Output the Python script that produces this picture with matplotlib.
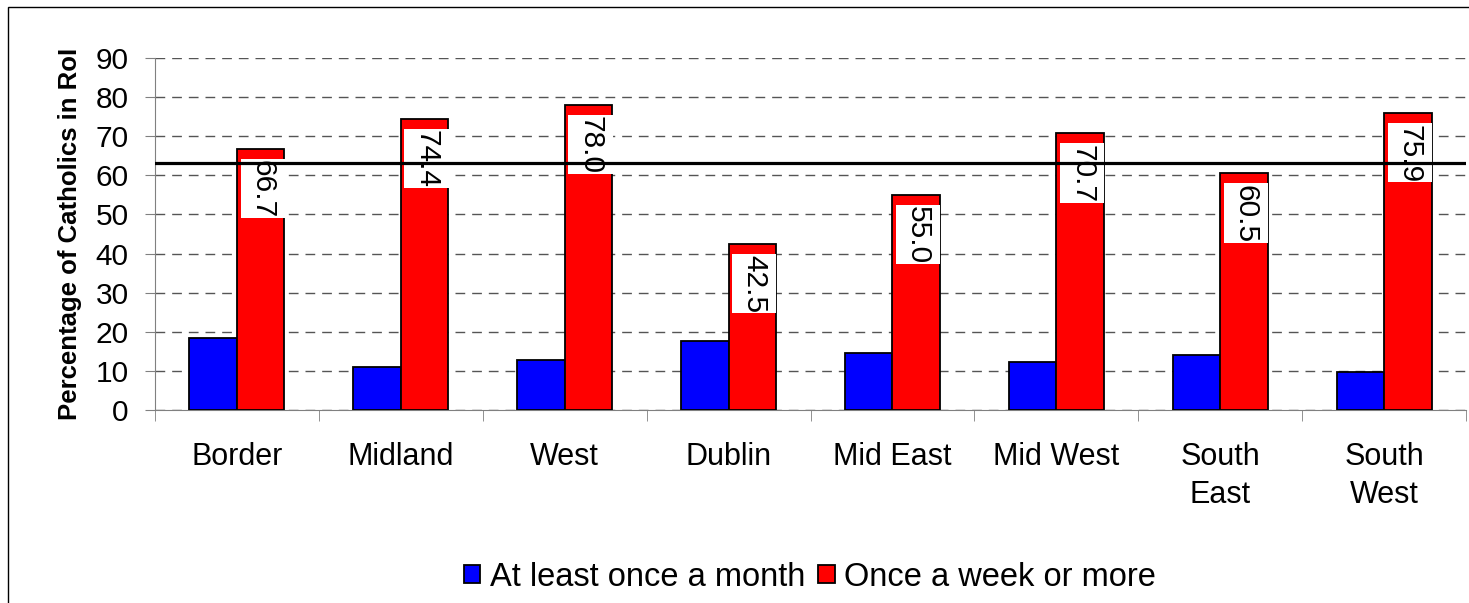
import numpy as np
import matplotlib
matplotlib.use("Agg")
import matplotlib.pyplot as plt
from matplotlib.patches import Rectangle

plt.rcParams['font.family'] = ['Liberation Sans', 'DejaVu Sans']

regions = ['Border', 'Midland', 'West', 'Dublin', 'Mid East', 'Mid West', 'South\nEast', 'South\nWest']
monthly = [18.4, 11.0, 12.8, 17.6, 14.6, 12.3, 14.1, 9.7]
weekly = [66.7, 74.4, 78.0, 42.5, 55.0, 70.7, 60.5, 75.9]
national_avg = 63.2

fig = plt.figure(figsize=(14.69, 6.03), dpi=100)
ax = fig.add_axes([0.1055, 0.32, 0.8925, 0.5838])

x = np.arange(len(regions))
w = 0.29
ax.bar(x - w / 2, monthly, w, color='#0000FF', edgecolor='black', linewidth=1.3,
       label='At least once a month', zorder=3)
ax.bar(x + w / 2, weekly, w, color='#FF0000', edgecolor='black', linewidth=1.3,
       label='Once a week or more', zorder=3)

# white label boxes + rotated value labels inside red bars
box_h = 15.2
weekly_arr = np.array(weekly)
ax.bar(x + w / 2 + 0.012, box_h, w * 0.93, bottom=weekly_arr - 2.5 - box_h,
       color='white', edgecolor='none', zorder=4)
for xi, v in zip(x, weekly):
    ax.text(xi + w / 2 + 0.012, v - 2.9, f'{v:.1f}', rotation=270, ha='center', va='top',
            fontsize=21.5, zorder=5)

ax.axhline(national_avg, color='black', linewidth=2.3, zorder=6)

ax.set_xlim(-0.5, len(regions) - 0.5)
ax.set_ylim(0, 90)
ax.set_yticks(range(0, 91, 10))
ax.tick_params(axis='y', labelsize=21.5, length=7, color='gray', pad=12)
ax.set_xticks(x)
ax.set_xticklabels(regions, fontsize=22, linespacing=1.35)
ax.set_xticks(np.arange(-0.5, len(regions)), minor=True)
ax.tick_params(axis='x', which='major', length=0, pad=23)
ax.tick_params(axis='x', which='minor', length=8, color='gray')

ax.yaxis.grid(True, linestyle=(0, (7, 5)), color='#555555', linewidth=1, zorder=0)
ax.set_axisbelow(True)
for s in ['top', 'right']:
    ax.spines[s].set_visible(False)
ax.spines['left'].set_color('gray')
ax.spines['bottom'].set_color('gray')

ax.set_ylabel('Percentage of Catholics in RoI', fontsize=18.5, fontweight='bold', labelpad=10)

ax.legend(loc='center', bbox_to_anchor=(810 / 1469, 1 - 577 / 603), bbox_transform=fig.transFigure,
          ncol=2, frameon=False, fontsize=23.5, handlelength=0.5, handleheight=0.5,
          handletextpad=0.3, columnspacing=0.4)

fig.patches.append(Rectangle((8 / 1469, -0.1), 1.2, 1.1 - 7 / 603, transform=fig.transFigure,
                             fill=False, edgecolor='black', linewidth=1))

fig.savefig('out.png', dpi=100)
